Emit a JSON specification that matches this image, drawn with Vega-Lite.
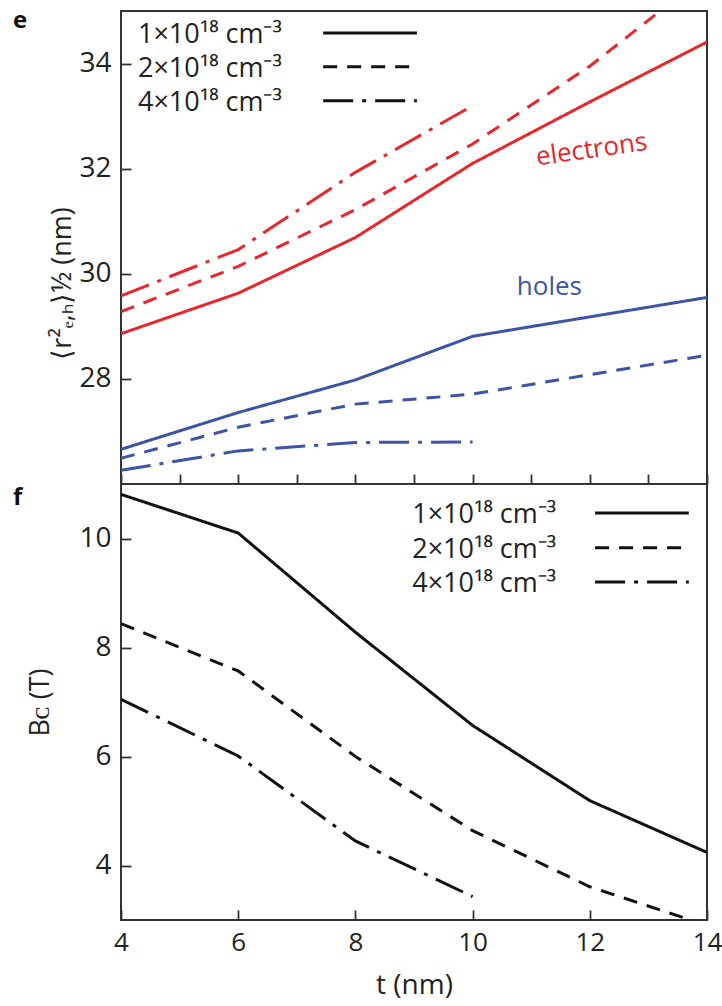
{
  "$schema": "https://vega.github.io/schema/vega-lite/v6.json",
  "padding": {"left": 12, "top": 8, "right": 0, "bottom": 5},
  "background": "white",
  "config": {
    "font": "Open Sans",
    "view": {"stroke": "#333", "strokeWidth": 2},
    "axis": {
      "labelFont": "Open Sans", "labelFontSize": 26, "labelColor": "#222", "labelFlush": false,
      "titleFont": "Open Sans", "titleFontSize": 27, "titleFontWeight": "normal", "titleColor": "#222",
      "domain": false, "grid": false, "ticks": true, "tickSize": 10, "offset": -10, "tickColor": "#333", "tickWidth": 1.8
    }
  },
  "datasets": {
    "e": [
      {"t": 4, "r": 28.86, "carrier": "electrons", "n": "1"},
      {"t": 6, "r": 29.63, "carrier": "electrons", "n": "1"},
      {"t": 8, "r": 30.69, "carrier": "electrons", "n": "1"},
      {"t": 10, "r": 32.10, "carrier": "electrons", "n": "1"},
      {"t": 12, "r": 33.27, "carrier": "electrons", "n": "1"},
      {"t": 14, "r": 34.41, "carrier": "electrons", "n": "1"},
      {"t": 4, "r": 29.28, "carrier": "electrons", "n": "2"},
      {"t": 6, "r": 30.14, "carrier": "electrons", "n": "2"},
      {"t": 8, "r": 31.22, "carrier": "electrons", "n": "2"},
      {"t": 10, "r": 32.47, "carrier": "electrons", "n": "2"},
      {"t": 12, "r": 33.95, "carrier": "electrons", "n": "2"},
      {"t": 14, "r": 35.7, "carrier": "electrons", "n": "2"},
      {"t": 4, "r": 29.58, "carrier": "electrons", "n": "4"},
      {"t": 6, "r": 30.46, "carrier": "electrons", "n": "4"},
      {"t": 8, "r": 31.93, "carrier": "electrons", "n": "4"},
      {"t": 10, "r": 33.20, "carrier": "electrons", "n": "4"},
      {"t": 4, "r": 26.66, "carrier": "holes", "n": "1"},
      {"t": 6, "r": 27.36, "carrier": "holes", "n": "1"},
      {"t": 8, "r": 27.98, "carrier": "holes", "n": "1"},
      {"t": 10, "r": 28.81, "carrier": "holes", "n": "1"},
      {"t": 12, "r": 29.18, "carrier": "holes", "n": "1"},
      {"t": 14, "r": 29.55, "carrier": "holes", "n": "1"},
      {"t": 4, "r": 26.49, "carrier": "holes", "n": "2"},
      {"t": 6, "r": 27.08, "carrier": "holes", "n": "2"},
      {"t": 8, "r": 27.52, "carrier": "holes", "n": "2"},
      {"t": 10, "r": 27.71, "carrier": "holes", "n": "2"},
      {"t": 12, "r": 28.08, "carrier": "holes", "n": "2"},
      {"t": 14, "r": 28.45, "carrier": "holes", "n": "2"},
      {"t": 4, "r": 26.26, "carrier": "holes", "n": "4"},
      {"t": 6, "r": 26.63, "carrier": "holes", "n": "4"},
      {"t": 8, "r": 26.79, "carrier": "holes", "n": "4"},
      {"t": 10, "r": 26.80, "carrier": "holes", "n": "4"}
    ],
    "f": [
      {"t": 4, "b": 10.81, "n": "1"},
      {"t": 6, "b": 10.10, "n": "1"},
      {"t": 8, "b": 8.28, "n": "1"},
      {"t": 10, "b": 6.57, "n": "1"},
      {"t": 12, "b": 5.19, "n": "1"},
      {"t": 14, "b": 4.24, "n": "1"},
      {"t": 4, "b": 8.44, "n": "2"},
      {"t": 6, "b": 7.57, "n": "2"},
      {"t": 8, "b": 6.00, "n": "2"},
      {"t": 10, "b": 4.64, "n": "2"},
      {"t": 12, "b": 3.61, "n": "2"},
      {"t": 14, "b": 2.90, "n": "2"},
      {"t": 4, "b": 7.05, "n": "4"},
      {"t": 6, "b": 6.01, "n": "4"},
      {"t": 8, "b": 4.45, "n": "4"},
      {"t": 10, "b": 3.43, "n": "4"}
    ],
    "legE": [
      {"n": "1", "label": "1×10¹⁸ cm⁻³", "tx": 4.29, "x1": 7.45, "x2": 9.05, "y": 34.58},
      {"n": "2", "label": "2×10¹⁸ cm⁻³", "tx": 4.29, "x1": 7.45, "x2": 9.05, "y": 33.94},
      {"n": "4", "label": "4×10¹⁸ cm⁻³", "tx": 4.29, "x1": 7.45, "x2": 9.05, "y": 33.29}
    ],
    "legF": [
      {"n": "1", "label": "1×10¹⁸  cm⁻³", "tx": 8.97, "x1": 12.09, "x2": 13.69, "y": 10.47},
      {"n": "2", "label": "2×10¹⁸  cm⁻³", "tx": 8.97, "x1": 12.09, "x2": 13.69, "y": 9.83},
      {"n": "4", "label": "4×10¹⁸  cm⁻³", "tx": 8.97, "x1": 12.09, "x2": 13.69, "y": 9.20}
    ],
    "carrierLabels": [
      {"text": "electrons", "carrier": "electrons", "t": 12.03, "r": 32.36},
      {"text": "holes", "carrier": "holes", "t": 11.31, "r": 29.75}
    ]
  },
  "spacing": 0,
  "bounds": "flush",
  "vconcat": [
    {
      "width": 586,
      "height": 473,
      "title": {"text": "e", "anchor": "start", "frame": "group", "dx": -108, "dy": 26, "fontSize": 24, "fontWeight": "bold", "color": "#111", "font": "Open Sans"},
      "layer": [
        {
          "data": {"name": "e"},
          "mark": {"type": "line", "strokeWidth": 3, "clip": true},
          "encoding": {
            "x": {"field": "t", "type": "quantitative", "scale": {"domain": [4, 14], "nice": false, "zero": false},
                  "axis": {"values": [4, 5, 6, 7, 8, 9, 10, 11, 12, 13, 14], "labels": false, "title": null, "zindex": 1}},
            "y": {"field": "r", "type": "quantitative", "scale": {"domain": [26, 35], "nice": false, "zero": false},
                  "axis": {"values": [28, 30, 32, 34], "format": "d", "labelFontSize": 28, "labelPadding": 10, "title": "⟨r²ₑ,ₕ⟩½ (nm)", "titleY": 272, "titlePadding": 2, "zindex": 1}},
            "color": {"field": "carrier", "type": "nominal", "scale": {"domain": ["electrons", "holes"], "range": ["#e8262c", "#3c54a6"]}, "legend": null},
            "strokeDash": {"field": "n", "type": "nominal", "scale": {"domain": ["1", "2", "4"], "range": [[1, 0], [14, 10], [30, 9, 4, 9]]}, "legend": null}
          }
        },
        {
          "data": {"name": "legE"},
          "mark": {"type": "rule", "strokeWidth": 3, "color": "#111"},
          "encoding": {
            "x": {"field": "x1", "type": "quantitative"},
            "x2": {"field": "x2"},
            "y": {"field": "y", "type": "quantitative"},
            "strokeDash": {"field": "n", "type": "nominal", "legend": null}
          }
        },
        {
          "data": {"name": "legE"},
          "mark": {"type": "text", "align": "left", "baseline": "middle", "dy": 2, "fontSize": 27, "color": "#222", "font": "Open Sans"},
          "encoding": {
            "x": {"field": "tx", "type": "quantitative"},
            "y": {"field": "y", "type": "quantitative"},
            "text": {"field": "label"}
          }
        },
        {
          "data": {"name": "carrierLabels"},
          "mark": {"type": "text", "align": "center", "baseline": "middle", "fontSize": 26, "font": "Open Sans"},
          "encoding": {
            "x": {"field": "t", "type": "quantitative"},
            "y": {"field": "r", "type": "quantitative"},
            "text": {"field": "text"},
            "angle": {"condition": {"test": "datum.carrier === 'electrons'", "value": 352}, "value": 0},
            "color": {"field": "carrier", "type": "nominal", "legend": null}
          }
        }
      ]
    },
    {
      "width": 586,
      "height": 436,
      "title": {"text": "f", "anchor": "start", "frame": "group", "dx": -108, "dy": 30, "fontSize": 24, "fontWeight": "bold", "color": "#111", "font": "Open Sans"},
      "layer": [
        {
          "data": {"name": "f"},
          "mark": {"type": "line", "strokeWidth": 3, "clip": true, "color": "#111"},
          "encoding": {
            "x": {"field": "t", "type": "quantitative", "scale": {"domain": [4, 14], "nice": false, "zero": false},
                  "axis": {"values": [4, 6, 8, 10, 12, 14], "format": "d", "labelPadding": 9, "title": "t (nm)", "titlePadding": 16, "titleFontSize": 28, "zindex": 1}},
            "y": {"field": "b", "type": "quantitative", "scale": {"domain": [3, 11], "nice": false, "zero": false},
                  "axis": {"values": [4, 6, 8, 10], "format": "d", "labelFontSize": 28, "labelPadding": 10, "title": "Bᴄ (T)", "titlePadding": 24, "zindex": 1}},
            "strokeDash": {"field": "n", "type": "nominal", "scale": {"domain": ["1", "2", "4"], "range": [[1, 0], [14, 10], [30, 9, 4, 9]]}, "legend": null}
          }
        },
        {
          "data": {"name": "legF"},
          "mark": {"type": "rule", "strokeWidth": 3, "color": "#111"},
          "encoding": {
            "x": {"field": "x1", "type": "quantitative"},
            "x2": {"field": "x2"},
            "y": {"field": "y", "type": "quantitative"},
            "strokeDash": {"field": "n", "type": "nominal", "legend": null}
          }
        },
        {
          "data": {"name": "legF"},
          "mark": {"type": "text", "align": "left", "baseline": "middle", "dy": 2, "fontSize": 27, "color": "#222", "font": "Open Sans"},
          "encoding": {
            "x": {"field": "tx", "type": "quantitative"},
            "y": {"field": "y", "type": "quantitative"},
            "text": {"field": "label"}
          }
        }
      ]
    }
  ]
}
